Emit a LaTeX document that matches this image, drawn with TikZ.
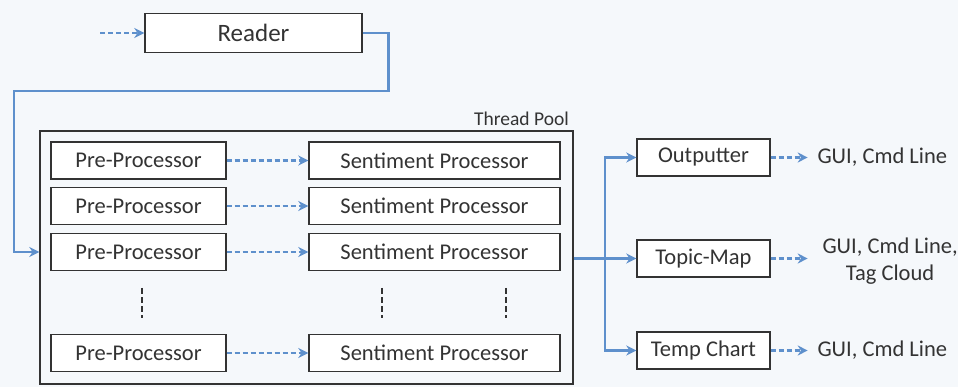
\documentclass[tikz,border=0pt]{standalone}
\usepackage{fontspec}
\setmainfont{Carlito}
\usetikzlibrary{arrows.meta,positioning}

\definecolor{flowblue}{HTML}{5E90CC}
\definecolor{boxgray}{HTML}{333333}
\definecolor{paper}{HTML}{F5F8FB}

\begin{document}
\begin{tikzpicture}[x=1pt, y=-1pt,
  block/.style={rectangle, draw=boxgray, line width=1.4pt, fill=white, text=boxgray, inner sep=0pt, minimum height=37pt, font=\fontsize{22.5}{26}\selectfont},
  preblock/.style={block, minimum width=175pt},
  sentblock/.style={block, minimum width=251pt},
  outblock/.style={block, minimum width=133pt},
  sink/.style={text=boxgray, align=center, font=\fontsize{22.5}{27}\selectfont},
  flow/.style={draw=flowblue, line width=2.5pt},
  flowarrow/.style={flow, -{Stealth[length=10pt, width=10pt]}},
  dashflow/.style={flowarrow, dash pattern=on 5pt off 3pt},
  more/.style={draw=boxgray, line width=2.5pt, dash pattern=on 6pt off 3pt}]

    \fill[paper] (0,0) rectangle (958,387);
    \useasboundingbox (0,0) rectangle (958,387);

    % reader
    \coordinate (src) at (100,33);
    \node[block, minimum width=217pt, minimum height=39pt, font=\fontsize{25}{28}\selectfont] (reader) at (253.5,33) {Reader};
    \draw[dashflow] (src) -- (reader);

    % thread pool
    \node[rectangle, draw=boxgray, line width=1.4pt, minimum width=533pt, minimum height=253pt, inner sep=0pt] (pool) at (306.5,257.5) {};
    \node[anchor=south east, text=boxgray, inner sep=0pt, font=\fontsize{19.5}{22}\selectfont] (poolname) at (569,126) {Thread Pool};

    \foreach \row/\y in {1/160.5, 2/206, 3/252, 4/353} {
        \node[preblock] (pre\row) at (138.5,\y) {Pre-Processor};
        \node[sentblock] (sent\row) at (434.5,\y) {Sentiment Processor};
        \draw[dashflow] (pre\row) -- (sent\row);
    }

    \coordinate (dotsA) at (142,288);
    \coordinate (dotsB) at (382,288);
    \coordinate (dotsC) at (506,288);
    \foreach \c in {dotsA, dotsB, dotsC}
        \draw[more] (\c) -- ++(0,30);

    \draw[flowarrow] (reader.east) -- ++(26,0) |- (14,91) |- (pool.west |- pre3);

    % outputs
    \node[outblock] (outputter) at (703.5,157.5) {Outputter};
    \node[outblock] (topicmap) at (703.5,258.5) {Topic-Map};
    \node[outblock] (tempchart) at (703.5,350.5) {Temp Chart};

    \coordinate (hub) at (605,258.5);
    \draw[flow, line width=3pt] (pool.east |- hub) -- (hub);
    \draw[flowarrow] (hub) |- (outputter);
    \draw[flowarrow] (hub) -- (topicmap);
    \draw[flowarrow] (hub) |- (tempchart);

    \node[sink, anchor=west] (gui1) at (814,157.5) {GUI, Cmd Line};
    \node[sink, anchor=west] (gui2) at (819,261) {GUI, Cmd Line,\\Tag Cloud};
    \node[sink, anchor=west] (gui3) at (814,350.5) {GUI, Cmd Line};

    \draw[dashflow] (outputter.east) -- ++(37,0);
    \draw[dashflow] (topicmap.east) -- ++(37,0);
    \draw[dashflow] (tempchart.east) -- ++(37,0);

  \end{tikzpicture}
\end{document}
